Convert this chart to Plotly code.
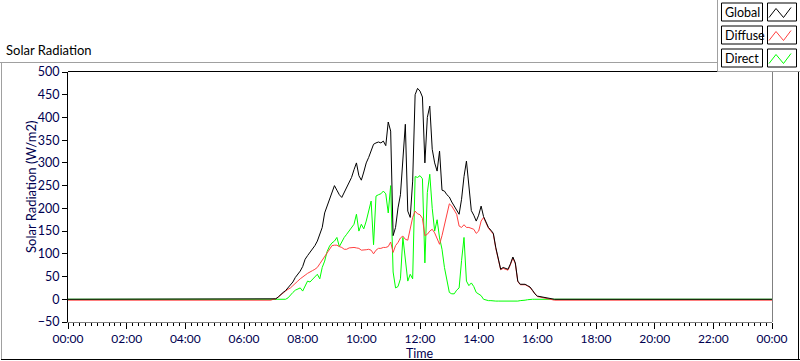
import plotly.graph_objects as go
import pandas as pd

# ---------------- data ----------------
BASE_DATE = "2020-01-01"
# time grid (HH:MM); 24:00 = midnight of next day
TIMES = (["00:00", "06:55"]
         + [f"{h:02d}:{m:02d}" for h in range(7, 17) for m in range(0, 60, 5) if h < 16 or m <= 30]
         + ["16:35", "24:00"])

GLOBAL = [
    0, 0,
    0, 1, 5, 11, 15, 19, 25, 31, 38, 48, 55, 62,
    72, 88, 96, 103, 110, 118, 128, 145, 158, 190, 205, 218,
    235, 250, 240, 230, 224, 235, 246, 255, 268, 285, 300, 272,
    262, 280, 300, 312, 328, 341, 344, 346, 344, 348, 338, 390,
    370, 140, 158, 201, 230, 300, 385, 194, 180, 260, 450, 464,
    458, 445, 300, 400, 425, 330, 300, 282, 326, 240, 238, 230,
    225, 214, 205, 198, 187, 220, 270, 304, 250, 195, 185, 172,
    185, 205, 182, 170, 158, 152, 145, 114, 90, 66, 70, 68,
    66, 78, 93, 80, 40, 33, 33, 33, 30, 27, 20, 12,
    7, 6, 5, 4, 2, 1, 0,
    0, 0,
]

DIFFUSE = [
    -2, -2,
    0, 1, 5, 10, 14, 18, 22, 25, 30, 36, 40, 45,
    50, 53, 57, 61, 63, 66, 70, 78, 86, 95, 104, 112,
    118, 119, 119, 116, 114, 110, 110, 113, 114, 114, 113, 112,
    108, 108, 109, 110, 108, 100, 108, 112, 112, 114, 114, 116,
    126, 103, 118, 125, 135, 139, 132, 130, 155, 180, 194, 188,
    186, 178, 140, 143, 150, 154, 146, 135, 121, 140, 162, 185,
    210, 205, 195, 187, 161, 158, 164, 158, 158, 156, 154, 145,
    150, 172, 180, 168, 156, 150, 143, 112, 88, 65, 68, 66,
    64, 76, 91, 78, 39, 32, 32, 32, 29, 26, 19, 11,
    6, 5, 4, 3, 1, 0, -1,
    -2, -2,
]

DIRECT = [
    0, 0,
    0, 0, 0, 0, 0, 0, 3, 10, 15, 20, 22, 25,
    18, 28, 40, 38, 44, 48, 55, 45, 70, 84, 105, 117,
    124, 128, 136, 116, 128, 136, 143, 150, 158, 165, 187, 150,
    165, 155, 172, 194, 216, 120, 227, 230, 232, 238, 232, 190,
    250, 60, 25, 28, 45, 136, 80, 40, 55, 45, 270, 268,
    272, 265, 80, 235, 275, 200, 150, 175, 135, 110, 70, 40,
    15, 12, 12, 20, 25, 85, 136, 40, 30, 36, 28, 15,
    12, 8, 0, -2, -3, -3, -4, -4, -4, -4, -4, -4,
    -4, -5, -4, -4, -4, -3, -3, -2, -1, 0, 0, 0,
    0, 0, 0, 0, 0, 0, 0,
    0, 0,
]

SERIES_NAMES = ["Global", "Diffuse", "Direct"]
SERIES_COLORS = ["#000000", "#ff4040", "#00ff00"]
Y_TICKS = list(range(-50, 501, 50))
TITLE = "Solar Radiation"
Y_TITLE = "Solar Radiation (W/m2)"
X_TITLE = "Time"

# ---------------- helpers ----------------
def to_ts(hhmm):
    h, m = map(int, hhmm.split(":"))
    return pd.Timestamp(BASE_DATE) + pd.Timedelta(hours=h, minutes=m)

x = [to_ts(t) for t in TIMES]

W, H = 800, 361
L, R, T, B = 68, 28, 72, 39
PW, PH = W - L - R, H - T - B

def px(v):
    return (v - L) / PW

def py(v):
    return (H - B - v) / PH

FONT = "Lato, Noto Sans, DejaVu Sans, sans-serif"
NAVY = "#000050"

fig = go.Figure()
data_map = {"Global": GLOBAL, "Diffuse": DIFFUSE, "Direct": DIRECT}
# draw Direct first, Global on top
for name in ["Direct", "Diffuse", "Global"]:
    col = SERIES_COLORS[SERIES_NAMES.index(name)]
    fig.add_trace(go.Scatter(x=x, y=data_map[name], mode="lines", name=name,
                             line=dict(color=col, width=1), showlegend=False))

shapes = []
def line(x0, y0, x1, y1, color, width=1):
    shapes.append(dict(type="line", xref="paper", yref="paper",
                       x0=px(x0), y0=py(y0), x1=px(x1), y1=py(y1),
                       line=dict(color=color, width=width)))

# outer frame
line(0, 62.5, 800, 62.5, "#a0a0a0")
line(1.5, 62.5, 1.5, 359.5, "#a0a0a0")
line(1, 359.5, 800, 359.5, "#000000")
line(798.5, 62.5, 798.5, 360, "#000000")
# plot area top / right borders
line(L, T - 0.5, W - R, T - 0.5, "#000000")
line(W - R + 0.5, T - 0.5, W - R + 0.5, H - B, "#808080")

# legend panel
shapes.append(dict(type="rect", xref="paper", yref="paper",
                   x0=px(717.5), y0=py(-2), x1=px(802), y1=py(71.5),
                   fillcolor="white", line=dict(width=0)))
line(717.5, -2, 717.5, 71.5, "#a0a0a0")
line(717.5, 71.5, 802, 71.5, "#a0a0a0")

annotations = []
row_tops = [3, 26, 49]
for i, name in enumerate(SERIES_NAMES):
    top = row_tops[i]
    shapes.append(dict(type="rect", xref="paper", yref="paper",
                       x0=px(721.5), y0=py(top), x1=px(762.5), y1=py(top + 18),
                       line=dict(color="#000000", width=1), fillcolor="white"))
    shapes.append(dict(type="rect", xref="paper", yref="paper",
                       x0=px(767.5), y0=py(top), x1=px(796.5), y1=py(top + 18),
                       line=dict(color="#000000", width=1), fillcolor="white"))
    pts = [(769, top + 14.5), (776, top + 5.5), (783.5, top + 14.5), (791, top + 4.5)]
    path = "M " + " L ".join(f"{px(a)},{py(b)}" for a, b in pts)
    shapes.append(dict(type="path", xref="paper", yref="paper", path=path,
                       line=dict(color=SERIES_COLORS[i], width=1)))
    annotations.append(dict(xref="paper", yref="paper", x=px(723), y=py(top + 9.5),
                            xanchor="left", yanchor="middle", showarrow=False,
                            text=name, font=dict(family=FONT, size=12.5, color="#000000")))

annotations.append(dict(xref="paper", yref="paper", x=px(4), y=py(50.5),
                        xanchor="left", yanchor="middle", showarrow=False,
                        text=TITLE, font=dict(family=FONT, size=13, color="#000000")))
annotations.append(dict(xref="paper", yref="paper", x=px(31), y=py(187),
                        xanchor="center", yanchor="middle", showarrow=False, textangle=-90,
                        text=Y_TITLE, font=dict(family=FONT, size=13, color=NAVY)))
annotations.append(dict(xref="paper", yref="paper", x=px(420), y=py(353.5),
                        xanchor="center", yanchor="middle", showarrow=False,
                        text=X_TITLE, font=dict(family=FONT, size=12.5, color=NAVY)))

fig.update_layout(
    width=W, height=H,
    margin=dict(l=L, r=R, t=T, b=B, pad=0),
    paper_bgcolor="white", plot_bgcolor="white",
    font=dict(family=FONT, size=12, color=NAVY),
    shapes=shapes, annotations=annotations,
    showlegend=False,
    xaxis=dict(
        type="date",
        range=[to_ts("00:00"), to_ts("24:00")],
        tickformat="%H:%M",
        dtick=2 * 3600 * 1000,
        tick0=to_ts("00:00"),
        ticks="outside", ticklen=6, tickcolor="#000000", tickwidth=1,
        minor=dict(dtick=12 * 60 * 1000, ticks="outside", ticklen=3,
                   tickcolor="#000000", tickwidth=1, showgrid=False),
        showline=True, linecolor="#808080", linewidth=1,
        showgrid=False, zeroline=False,
        tickfont=dict(family=FONT, size=12, color=NAVY),
        fixedrange=True,
    ),
    yaxis=dict(
        range=[-50, 500],
        tickvals=Y_TICKS,
        ticks="outside", ticklen=5, tickcolor="#000000", tickwidth=1,
        showline=True, linecolor="#000000", linewidth=1,
        showgrid=False, zeroline=False,
        tickfont=dict(family=FONT, size=12.5, color=NAVY),
        fixedrange=True,
    ),
)

fig.write_html("out.html", config={"displayModeBar": False},
               post_script="document.body.style.margin='0';document.body.style.overflow='hidden';")
